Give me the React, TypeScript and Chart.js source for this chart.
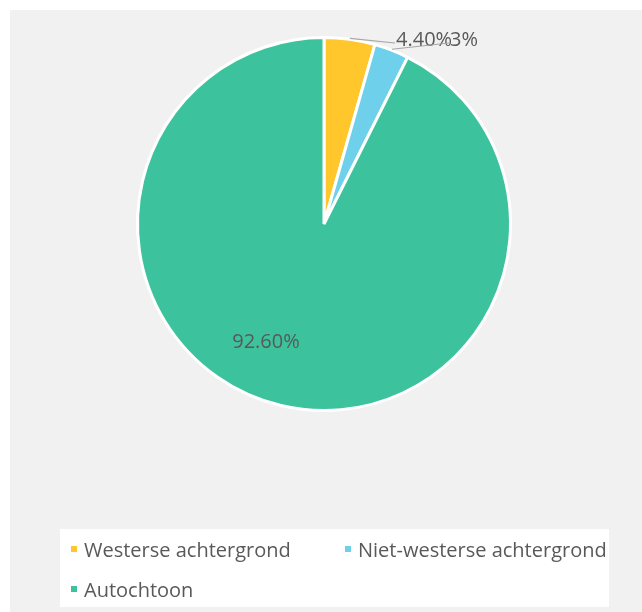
import React, { useEffect, useRef } from "react";
import { Chart, registerables } from "chart.js";

Chart.register(...registerables);

const categories = ["Westerse achtergrond", "Niet-westerse achtergrond", "Autochtoon"];
const values = [4.4, 3, 92.6];
const valueLabels = ["4.40%", "3%", "92.60%"];
const colors = ["#FFC72C", "#6FD0EC", "#3CC39D"];

const FONT = "'Open Sans', sans-serif";
const TEXT_COLOR = "#595959";

// label placement relative to the pie centre (dx, dy) and whether a leader line is drawn
const labelPlacement = [
  { dx: 72, dy: -184, leader: true },
  { dx: 126, dy: -184, leader: true },
  { dx: -58, dy: 118, leader: false },
];

const decorPlugin = {
  id: "decor",
  beforeDraw(chart: any) {
    const ctx = chart.ctx;
    ctx.save();
    ctx.fillStyle = "#ffffff";
    ctx.fillRect(0, 0, chart.width, chart.height);
    ctx.fillStyle = "#F1F1F1";
    ctx.fillRect(10, 10, chart.width - 10, chart.height - 10);
    ctx.fillStyle = "#ffffff";
    ctx.fillRect(60, 529, 549, 78);
    ctx.restore();
  },
  afterDraw(chart: any) {
    const ctx = chart.ctx;
    const meta = chart.getDatasetMeta(0);
    ctx.save();
    meta.data.forEach((arc: any, i: number) => {
      const p = arc.getProps(["x", "y", "startAngle", "endAngle", "outerRadius"], true);
      const mid = (p.startAngle + p.endAngle) / 2;
      const place = labelPlacement[i];
      const lx = p.x + place.dx;
      const ly = p.y + place.dy;
      ctx.font = `20px ${FONT}`;
      ctx.fillStyle = TEXT_COLOR;
      ctx.textBaseline = "middle";
      if (place.leader) {
        const ex = p.x + Math.cos(mid) * (p.outerRadius + 1);
        const ey = p.y + Math.sin(mid) * (p.outerRadius + 1);
        ctx.strokeStyle = "#A6A6A6";
        ctx.lineWidth = 1.2;
        ctx.beginPath();
        ctx.moveTo(ex, ey);
        ctx.lineTo(lx - 1, ly + 3);
        ctx.stroke();
        ctx.textAlign = "left";
        ctx.fillText(valueLabels[i], lx, ly);
      } else {
        ctx.textAlign = "center";
        ctx.fillText(valueLabels[i], lx, ly);
      }
    });

    // legend
    const legendPos = [
      { x: 71, y: 557 },
      { x: 345, y: 557 },
      { x: 71, y: 597 },
    ];
    ctx.font = `20px ${FONT}`;
    ctx.textAlign = "left";
    ctx.textBaseline = "alphabetic";
    categories.forEach((c, i) => {
      const lp = legendPos[i];
      ctx.fillStyle = colors[i];
      ctx.fillRect(lp.x, lp.y - 11, 6, 6);
      ctx.fillStyle = TEXT_COLOR;
      ctx.fillText(c, lp.x + 13, lp.y);
    });
    ctx.restore();
  },
};

export default function App() {
  const ref = useRef<HTMLCanvasElement>(null);
  useEffect(() => {
    if (!ref.current) return;
    const chart = new Chart(ref.current, {
      type: "pie",
      data: {
        labels: categories,
        datasets: [
          {
            data: values,
            backgroundColor: colors,
            borderColor: "#ffffff",
            borderWidth: 3,
          },
        ],
      },
      options: {
        animation: false,
        responsive: false,
        devicePixelRatio: 1,
        radius: 186.5,
        layout: { padding: { left: 137, right: 131, top: 35, bottom: 199 } },
        plugins: {
          legend: { display: false },
          tooltip: { enabled: false },
        },
      } as any,
      plugins: [decorPlugin],
    });
    return () => chart.destroy();
  }, []);
  return (
    <div style={{ position: "fixed", left: 0, top: 0, width: 642, height: 612 }}>
      <canvas ref={ref} width={642} height={612} style={{ width: 642, height: 612, display: "block" }} />
    </div>
  );
}
